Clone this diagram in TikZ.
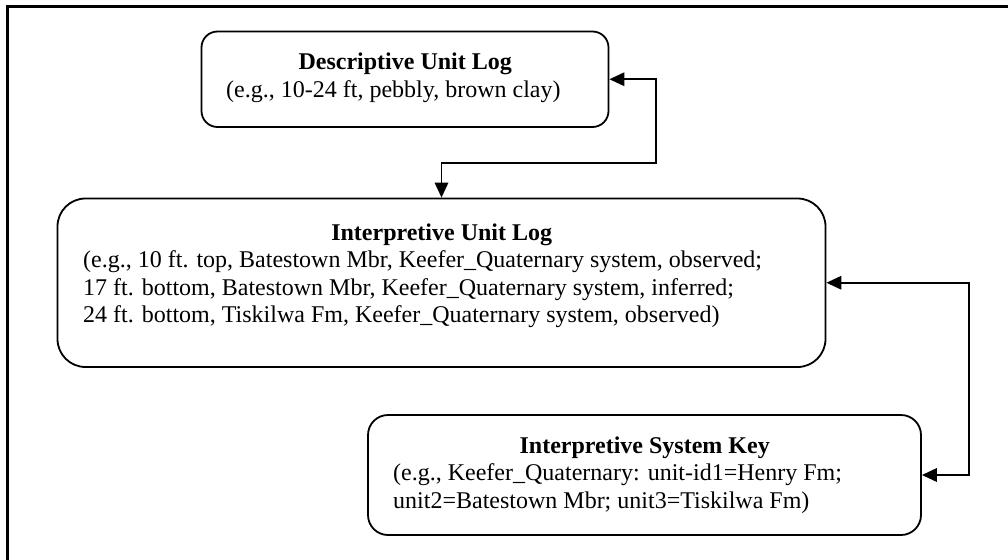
\documentclass[tikz,border=0pt]{standalone}
\usepackage{fontspec}
\setmainfont{Liberation Serif}
\usetikzlibrary{arrows.meta}
\begin{document}
\begin{tikzpicture}[x=1pt,y=-1pt,
  unitbox/.style={draw=black, line width=1.8pt, rounded corners=#1, inner sep=0pt},
  boxtext/.style={anchor=base west, inner sep=0pt, font=\fontsize{24}{27.5}\selectfont},
  link/.style={line width=1.8pt, line join=miter,
    {Triangle[length=15pt,width=13.5pt]}-{Triangle[length=15pt,width=13.5pt]}},
  frame/.style={line width=2.5pt}]
  \useasboundingbox (0,0) rectangle (1008,559);
  \clip (0,0) rectangle (1008,559);

  % page frame (only the top and left rules fall inside the picture)
  \coordinate (fb) at (7.5,600);
  \coordinate (fc) at (7.5,6.5);
  \coordinate (fr) at (1040,6.5);
  \draw[frame] (fb) -- (fc) -- (fr);

  % descriptive unit log
  \node[unitbox=16pt, minimum width=407pt, minimum height=95.5pt] (b1) at (405,79.25) {};
  \node[boxtext] (t1) at (226,70) {\begin{tabular}[t]{@{}p{358pt}@{}}
    \multicolumn{1}{@{}c@{}}{\bfseries Descriptive Unit Log}\\
    (e.g., 10-24 ft, pebbly, brown clay)
  \end{tabular}};

  % interpretive unit log
  \node[unitbox=28pt, minimum width=768pt, minimum height=168.5pt] (b2) at (441.5,282.75) {};
  \node[boxtext] (t2) at (83,240) {\begin{tabular}[t]{@{}p{717pt}@{}}
    \multicolumn{1}{@{}c@{}}{\bfseries Interpretive Unit Log}\\
    (e.g., 10 ft. top, Batestown Mbr, Keefer\_Quaternary system, observed;\\
    17 ft. bottom, Batestown Mbr, Keefer\_Quaternary system, inferred;\\
    24 ft. bottom, Tiskilwa Fm, Keefer\_Quaternary system, observed)
  \end{tabular}};

  % interpretive system key
  \node[unitbox=20pt, minimum width=553pt, minimum height=120pt] (b3) at (644.5,475) {};
  \node[boxtext] (t3) at (393,453) {\begin{tabular}[t]{@{}p{503pt}@{}}
    \multicolumn{1}{@{}c@{}}{\bfseries Interpretive System Key}\\
    (e.g., Keefer\_Quaternary: unit-id1=Henry Fm;\\
    unit2=Batestown Mbr; unit3=Tiskilwa Fm)
  \end{tabular}};

  % two-way links between the logs and the key
  \coordinate (j1) at (656,163);
  \coordinate (j2) at (969,0);
  \draw[link] (b1.east) -| (j1) -| (b2.north);
  \draw[link] (b2.east) -- (b2.east -| j2) |- (b3.east);
\end{tikzpicture}
\end{document}
